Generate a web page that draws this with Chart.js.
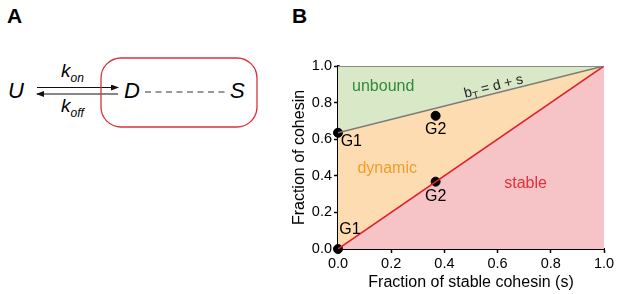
<!DOCTYPE html>
<html>
<head>
<meta charset="utf-8">
<script src="https://cdn.jsdelivr.net/npm/chart.js@4/dist/chart.umd.min.js"></script>
<style>
  html, body { margin: 0; padding: 0; background: #fff; }
  #wrap { position: relative; width: 617px; height: 294px; font-family: "Liberation Sans", Arial, sans-serif; }
  #scheme { position: absolute; left: 0; top: 0; }
  #box { position: absolute; left: 280px; top: 0; width: 337px; height: 294px; }
</style>
</head>
<body>
<div id="wrap">
  <!-- panel A: kinetic scheme -->
  <svg id="scheme" width="617" height="294" font-family="Liberation Sans, Arial, sans-serif">
    <defs>
      <marker id="head" markerWidth="8" markerHeight="6" refX="7" refY="3" orient="auto" markerUnits="userSpaceOnUse">
        <path d="M0,0 L8,3 L0,6 z" fill="#111"/>
      </marker>
    </defs>
    <text x="7" y="23" font-size="21" font-weight="bold">A</text>
    <text x="292" y="23" font-size="21" font-weight="bold">B</text>

    <text x="8" y="98" font-size="22" font-style="italic">U</text>
    <line x1="37" y1="87.5" x2="118" y2="87.5" stroke="#111" stroke-width="1.2" marker-end="url(#head)"/>
    <line x1="118" y1="94" x2="37" y2="94" stroke="#111" stroke-width="1.2" marker-end="url(#head)"/>
    <text x="61" y="77" font-size="19" font-style="italic">k<tspan font-size="12" dy="5">on</tspan></text>
    <text x="61" y="112" font-size="19" font-style="italic">k<tspan font-size="12" dy="5">off</tspan></text>

    <rect x="101" y="58" width="156" height="69" rx="20" ry="20" fill="none" stroke="#d8323e" stroke-width="1.3"/>
    <text x="124" y="98" font-size="22" font-style="italic">D</text>
    <line x1="145" y1="92" x2="227" y2="92" stroke="#333" stroke-width="1" stroke-dasharray="6,4.5"/>
    <text x="230" y="98" font-size="22" font-style="italic">S</text>
  </svg>
  <div id="box"><canvas id="phase"></canvas></div>
</div>
<script>
// Phase diagram: fraction of cohesin vs fraction of stable cohesin
const sEnds = [0, 1];              // stable fraction s at both ends
const boundLine = [0.635, 1];      // b_T = d + s
const stableLine = [0, 1];         // s itself
const topLine = [1, 1];            // all cohesin

const pointS = [0, 0.367, 0.367, 0];
const pointFrac = [0.635, 0.728, 0.368, 0];
const pointNames = ["G1", "G2", "G2", "G1"];

const xTicks = [0, 0.2, 0.4, 0.6, 0.8, 1.0];
const yTicks = [0, 0.2, 0.4, 0.6, 0.8, 1.0];

// region names and where they sit (data units)
const regionNames = ["unbound", "dynamic", "stable"];
const regionS = [0.17, 0.185, 0.705];
const regionFrac = [0.885, 0.44, 0.36];
const regionColors = ["#2e8b3a", "#f39c2a", "#e0303c"];

// where the G labels go (data units)
const nameS = [0.05, 0.367, 0.367, 0.045];
const nameFrac = [0.585, 0.65, 0.285, 0.105];

const pts = (xs, ys) => xs.map((x, i) => ({ x: x, y: ys[i] }));
const FONT = "'Liberation Sans', Arial, sans-serif";

const labelPlugin = {
  id: "labels",
  afterDatasetsDraw(chart) {
    const { ctx, scales: { x, y } } = chart;
    ctx.save();
    ctx.textAlign = "center";
    ctx.textBaseline = "middle";
    ctx.font = "16px " + FONT;
    regionNames.forEach((t, i) => {
      ctx.fillStyle = regionColors[i];
      ctx.fillText(t, x.getPixelForValue(regionS[i]), y.getPixelForValue(regionFrac[i]));
    });
    ctx.fillStyle = "#000";
    pointNames.forEach((t, i) => {
      ctx.fillText(t, x.getPixelForValue(nameS[i]), y.getPixelForValue(nameFrac[i]));
    });
    // b_T = d + s along the grey line
    const ang = Math.atan2(
      y.getPixelForValue(boundLine[1]) - y.getPixelForValue(boundLine[0]),
      x.getPixelForValue(sEnds[1]) - x.getPixelForValue(sEnds[0])
    );
    ctx.translate(x.getPixelForValue(0.585), y.getPixelForValue(0.888));
    ctx.rotate(ang);
    ctx.textAlign = "left";
    ctx.textBaseline = "alphabetic";
    ctx.fillStyle = "#222";
    ctx.font = "14px " + FONT;
    const w1 = ctx.measureText("b").width;
    ctx.font = "9.5px " + FONT;
    const w2 = ctx.measureText("T").width;
    ctx.font = "14px " + FONT;
    const w3 = ctx.measureText(" = d + s").width;
    const x0 = -(w1 + w2 + w3) / 2;
    ctx.fillText("b", x0, 4);
    ctx.font = "9.5px " + FONT;
    ctx.fillText("T", x0 + w1, 7);
    ctx.font = "14px " + FONT;
    ctx.fillText(" = d + s", x0 + w1 + w2, 4);
    ctx.restore();
  }
};

const ctx = document.getElementById("phase").getContext("2d");
new Chart(ctx, {
  type: "line",
  data: {
    datasets: [
      {
        data: pts(sEnds, boundLine),
        borderColor: "#7a7a7a",
        borderWidth: 1.5,
        backgroundColor: "#d9e8c6",
        fill: "end",
        pointRadius: 0,
      },
      {
        data: pts(sEnds, stableLine),
        borderColor: "#e21e26",
        borderWidth: 1.5,
        backgroundColor: "#fddcb2",
        fill: 0,
        pointRadius: 0,
      },
      {
        data: pts(sEnds, stableLine),
        borderWidth: 0,
        borderColor: "rgba(0,0,0,0)",
        backgroundColor: "#f6c3c7",
        fill: "start",
        pointRadius: 0,
      },
      {
        data: pts(sEnds, topLine),
        borderColor: "#6e6e6e",
        borderWidth: 1.5,
        fill: false,
        pointRadius: 0,
      },
      {
        type: "scatter",
        data: pts(pointS, pointFrac),
        backgroundColor: "#000",
        borderColor: "#000",
        pointRadius: 4.5,
        showLine: false,
        clip: false,
      },
    ],
  },
  plugins: [labelPlugin],
  options: {
    responsive: true,
    maintainAspectRatio: false,
    animation: false,
    layout: { padding: { top: 66, right: 13, left: 0, bottom: 0 } },
    plugins: {
      legend: { display: false },
      tooltip: { enabled: false },
      filler: { drawTime: "beforeDatasetsDraw" },
    },
    scales: {
      x: {
        type: "linear",
        min: 0,
        max: 1,
        afterBuildTicks: (s) => { s.ticks = xTicks.map((v) => ({ value: v })); },
        afterFit: (s) => { s.height = 45; },
        ticks: {
          callback: (v) => v.toFixed(1),
          color: "#000",
          font: { size: 14.5, family: FONT },
          padding: 2,
          maxRotation: 0,
        },
        grid: { display: true, drawOnChartArea: false, drawTicks: true, tickLength: 4, color: "#000", tickWidth: 1.5 },
        border: { color: "#000", width: 2 },
        title: {
          display: true,
          text: "Fraction of stable cohesin (s)",
          color: "#000",
          font: { size: 16, family: FONT },
          padding: { top: 0, bottom: 2 },
        },
      },
      y: {
        type: "linear",
        min: 0,
        max: 1,
        afterBuildTicks: (s) => { s.ticks = yTicks.map((v) => ({ value: v })); },
        afterFit: (s) => { s.width = 58; },
        ticks: {
          callback: (v) => v.toFixed(1),
          color: "#000",
          font: { size: 14.5, family: FONT },
          padding: 2,
        },
        grid: { display: true, drawOnChartArea: false, drawTicks: true, tickLength: 4, color: "#000", tickWidth: 1.5 },
        border: { color: "#000", width: 2.5 },
        title: {
          display: true,
          text: "Fraction of cohesin",
          color: "#000",
          font: { size: 16, family: FONT },
          padding: { top: 10, bottom: 0 },
        },
      },
    },
  },
});
</script>
</body>
</html>
